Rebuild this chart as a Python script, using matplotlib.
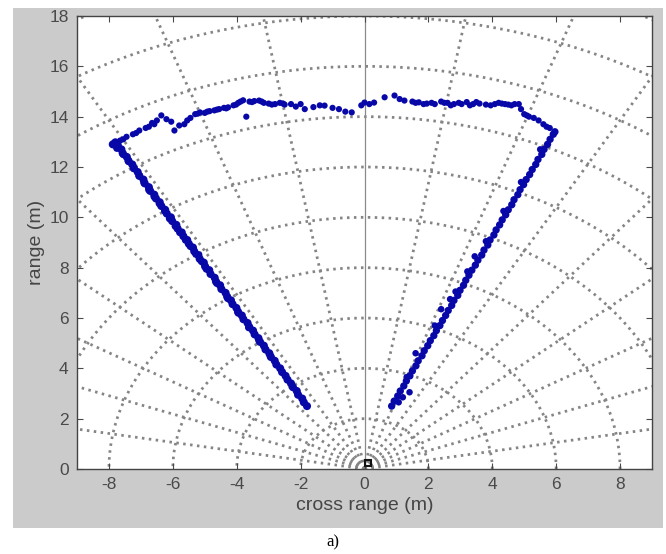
import numpy as np
import matplotlib
matplotlib.use("Agg")
import matplotlib.pyplot as plt
from matplotlib.patches import Rectangle

plt.rcParams['axes.unicode_minus'] = False
plt.rcParams['font.family'] = ['Liberation Sans', 'DejaVu Sans']

# ---- data ----
left_x = [-1.80, -1.90, -1.95, -2.08, -2.12, -2.24, -2.30, -2.41, -2.47, -2.58, -2.64, -2.76,
          -2.81, -2.93, -2.98, -3.10, -3.15, -3.27, -3.32, -3.44, -3.49, -3.61, -3.66, -3.79,
          -3.84, -3.96, -4.01, -4.13, -4.18, -4.30, -4.35, -4.48, -4.52, -4.65, -4.69, -4.82,
          -4.86, -4.99, -5.03, -5.16, -5.20, -5.33, -5.37, -5.50, -5.55, -5.67, -5.72, -5.85,
          -5.89, -6.02, -6.06, -6.19, -6.24, -6.36, -6.41, -6.53, -6.58, -6.71, -6.75, -6.88,
          -6.92, -7.05, -7.10, -7.22, -7.27, -7.39, -7.44, -7.57, -7.61, -7.72, -7.80, -7.88]
left_y = [2.50, 2.65, 2.80, 2.95, 3.10, 3.25, 3.40, 3.55, 3.70, 3.85, 4.00, 4.15,
          4.30, 4.45, 4.60, 4.75, 4.90, 5.05, 5.20, 5.35, 5.50, 5.65, 5.80, 5.95,
          6.10, 6.25, 6.40, 6.55, 6.70, 6.85, 7.00, 7.15, 7.30, 7.45, 7.60, 7.75,
          7.90, 8.05, 8.20, 8.35, 8.50, 8.65, 8.80, 8.95, 9.10, 9.25, 9.40, 9.55,
          9.70, 9.85, 10.00, 10.15, 10.30, 10.45, 10.60, 10.75, 10.90, 11.05, 11.20, 11.35,
          11.50, 11.65, 11.80, 11.95, 12.10, 12.25, 12.40, 12.55, 12.70, 12.85, 12.98, 12.90]
# second (outer) row making the left edge thicker
left2_x = [-2.95, -3.30, -3.62, -3.95, -4.28, -4.62, -4.95, -5.28, -5.60, -5.92, -6.25,
           -6.58, -6.90, -7.22, -7.55, -7.75, -5.10, -5.45, -5.78, -6.10, -6.42, -6.75,
           -7.05, -7.38]
left2_y = [4.50, 5.10, 5.62, 6.20, 6.78, 7.38, 7.95, 8.55, 9.10, 9.65, 10.25,
           10.82, 11.38, 11.95, 12.50, 12.75, 8.25, 8.85, 9.40, 9.95, 10.55, 11.10,
           11.65, 12.22]

right_x = [0.85, 0.93, 1.04, 1.12, 1.23, 1.31, 1.42, 1.50, 1.61, 1.68, 1.80, 1.87,
           1.98, 2.06, 2.17, 2.25, 2.36, 2.44, 2.54, 2.62, 2.73, 2.80, 2.92, 2.99,
           3.10, 3.17, 3.27, 3.36, 3.47, 3.55, 3.67, 3.74, 3.86, 3.93, 4.05, 4.12,
           4.23, 4.31, 4.42, 4.50, 4.61, 4.68, 4.80, 4.87, 4.98, 5.06, 5.17, 5.25,
           5.36, 5.43, 5.55, 5.62, 5.73, 5.81, 5.91, 5.96]
right_y = [2.50, 2.70, 2.90, 3.10, 3.30, 3.50, 3.70, 3.90, 4.10, 4.30, 4.50, 4.70,
           4.90, 5.10, 5.30, 5.50, 5.70, 5.90, 6.10, 6.30, 6.50, 6.70, 6.90, 7.10,
           7.30, 7.50, 7.70, 7.90, 8.10, 8.30, 8.50, 8.70, 8.90, 9.10, 9.30, 9.50,
           9.70, 9.90, 10.10, 10.30, 10.50, 10.70, 10.90, 11.10, 11.30, 11.50, 11.70, 11.90,
           12.10, 12.30, 12.50, 12.70, 12.90, 13.10, 13.30, 13.40]
right_out_x = [1.07, 1.20, 1.32, 1.41, 1.60, 2.40, 2.85, 3.45, 2.20, 2.68, 3.22, 3.80,
               4.35, 4.90, 5.50]
right_out_y = [2.65, 2.85, 3.65, 3.05, 4.60, 6.35, 7.05, 8.45, 5.70, 6.75, 7.85, 9.05,
               10.25, 11.40, 12.70]

top_x = [-7.65, -7.45, -7.25, -7.05, -6.85, -6.65, -6.50, -6.36, -6.20, -6.05, -5.95, -5.80,
         -5.64, -5.45, -5.30, -5.15, -5.00, -4.85, -4.70, -4.55, -4.40, -4.27, -4.10, -3.95,
         -3.80, -3.70, -3.60, -3.45, -3.30, -3.15, -3.00, -2.80, -2.65, -2.50, -2.30, -2.15,
         -2.00, -1.87, -1.60, -1.40, -1.25, -1.00, -0.80, -0.60, -0.40, -0.10, 0.00, 0.15,
         0.30, 0.63, 0.94, 1.10, 1.25, 1.50, 1.70, 1.95, 2.20, 2.40, 2.60, 2.80,
         3.04, 3.20, 3.40, 3.60, 3.80, 4.08, 4.30, 4.50, 4.70, 4.83, 4.90, 5.00,
         5.15, 5.30, 5.45, 5.60, 5.80, 5.96,
         -7.55, -7.15, -6.75, -6.58, -5.55, -5.22, -4.92, -4.62, -4.33, -4.02, -3.88, -3.52,
         -3.22, -2.90, -2.55, 1.60, 1.85, 2.10, 2.50, 2.70, 2.95, 3.30, 3.50, 3.95,
         4.20, 4.40, 4.60, 5.08, 5.70]
top_y = [13.05, 13.20, 13.30, 13.45, 13.55, 13.75, 13.85, 14.05, 13.90, 13.80, 13.45, 13.65,
         13.70, 13.95, 14.10, 14.17, 14.15, 14.22, 14.25, 14.30, 14.35, 14.37, 14.45, 14.55,
         14.65, 14.00, 14.60, 14.62, 14.64, 14.55, 14.52, 14.50, 14.55, 14.48, 14.50, 14.40,
         14.50, 14.30, 14.38, 14.45, 14.44, 14.35, 14.30, 14.20, 14.17, 14.45, 14.56, 14.50,
         14.56, 14.77, 14.84, 14.70, 14.64, 14.60, 14.57, 14.52, 14.50, 14.60, 14.55, 14.50,
         14.50, 14.58, 14.50, 14.52, 14.48, 14.50, 14.52, 14.48, 14.50, 14.50, 14.30, 14.10,
         14.00, 13.95, 13.85, 13.70, 13.55, 13.38,
         13.10, 13.35, 13.60, 13.70, 13.85, 14.12, 14.20, 14.28, 14.33, 14.48, 14.60, 14.58,
         14.60, 14.48, 14.52, 14.55, 14.50, 14.55, 14.55, 14.45, 14.55, 14.45, 14.58, 14.45,
         14.55, 14.50, 14.45, 14.05, 13.60]

x_ticks = [-8, -6, -4, -2, 0, 2, 4, 6, 8]
y_ticks = [0, 2, 4, 6, 8, 10, 12, 14, 16, 18]
grid_radii = [2, 4, 6, 8, 10, 12, 14, 16, 18, 20]
grid_angles_deg = [10, 20, 30, 40, 50, 60, 70, 80, 100, 110, 120, 130, 140, 150, 160, 170]

# ---- figure ----
fig = plt.figure(figsize=(6.66, 5.54), dpi=100, facecolor='white')
bg = Rectangle((13/666, 26/554), 650/666, 520/554, transform=fig.transFigure,
               facecolor='#cbcbcb', edgecolor='none', zorder=-10)
fig.add_artist(bg)
ax = fig.add_axes([77/666, 85/554, 575/666, 453/554], zorder=1)
ax.set_facecolor('white')

grid_kw = dict(color='#858585', lw=2.0, linestyle=(0, (0.9, 1.6)), zorder=1)
t = np.linspace(0, np.pi, 400)
for r in grid_radii:
    ax.plot(r*np.cos(t), r*np.sin(t), **grid_kw)
for a in grid_angles_deg:
    ar = np.deg2rad(a)
    ax.plot([0, 22*np.cos(ar)], [0, 22*np.sin(ar)], **grid_kw)
ax.axvline(0, color='#8a8a8a', lw=0.9, zorder=1)

pc = '#0808a8'
ax.scatter(left_x, left_y, s=34, color=pc, edgecolors='none', zorder=3)
ax.scatter(left2_x, left2_y, s=30, color=pc, edgecolors='none', zorder=3)
ax.scatter(right_x, right_y, s=28, color=pc, edgecolors='none', zorder=3)
ax.scatter(right_out_x, right_out_y, s=22, color=pc, edgecolors='none', zorder=3)
ax.scatter(top_x, top_y, s=20, color=pc, edgecolors='none', zorder=3)

ax.plot([0.12], [0.22], marker='s', ms=5, mfc='none', mec='#111111', mew=1.5, zorder=4)

ax.set_xlim(-9, 9)
ax.set_ylim(0, 18)
ax.set_xticks(x_ticks)
ax.set_yticks(y_ticks)
ax.tick_params(direction='in', top=True, right=True, length=4, width=0.8,
               colors='#4a4a4a', labelsize=12.5, pad=6)
for s in ax.spines.values():
    s.set_color('#444444')
    s.set_linewidth(1.0)
ax.set_xlabel('cross range (m)', fontsize=14, color='#454545', labelpad=3)
ax.set_ylabel('range (m)', fontsize=14, color='#454545', labelpad=3)

fig.text(333/666, 1 - 542/554, 'a)', ha='center', va='center', fontsize=12,
         family=['Liberation Serif', 'DejaVu Serif'], color='black')

fig.savefig('out.png', dpi=100, facecolor='white')
